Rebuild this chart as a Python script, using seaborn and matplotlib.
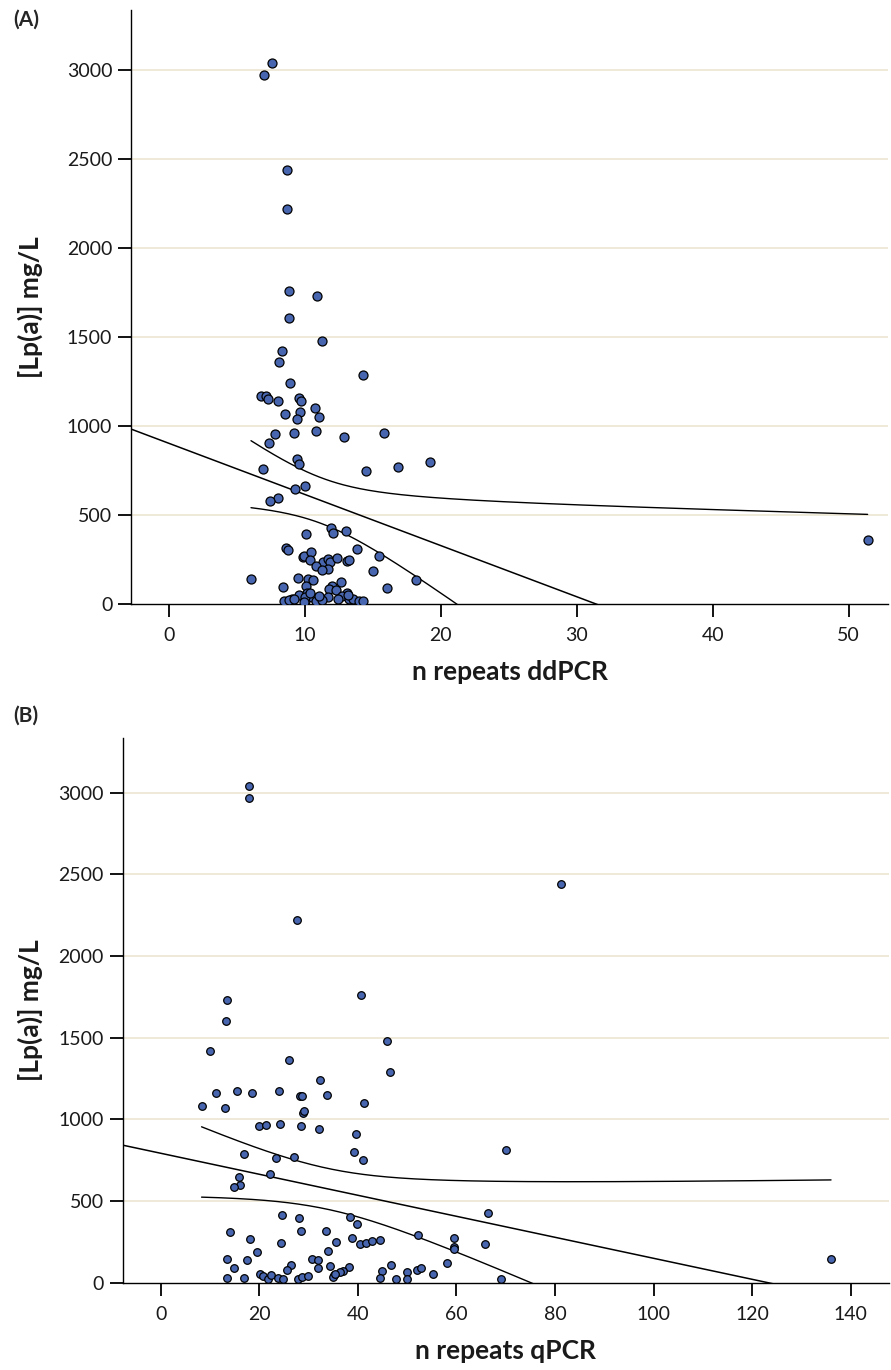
import numpy as np
import pandas as pd
import seaborn as sns
import matplotlib
matplotlib.use("Agg")
import matplotlib.pyplot as plt

# ---------------- data ----------------
# Panel A: n repeats by ddPCR vs [Lp(a)]
ddpcr_x = [7.6, 7.0, 8.65, 8.68, 8.85, 10.86, 8.85,
           11.27, 8.28, 8.06, 14.26, 8.87, 6.76, 7.16, 7.26, 7.99, 9.53, 9.7, 10.76, 9.61,
           11.0, 8.53, 9.41, 7.79, 9.19, 10.81, 12.87, 15.81, 7.35, 9.43, 9.53, 6.94, 14.46,
           16.81, 19.22, 10.0, 9.29, 8.04, 7.43, 11.89, 12.08, 13.01, 10.07, 13.82, 8.58,
           8.72, 15.42, 9.85, 9.95, 10.47, 10.39, 11.32, 11.71, 11.84, 12.35, 13.06, 13.21,
           10.78, 11.69, 11.25, 15.0, 6.03, 9.46, 10.22, 10.61, 18.18, 12.62, 8.36, 16.0,
           10.1, 11.96, 11.79, 12.28, 13.06, 9.58, 10.17, 12.74, 11.69, 9.02, 8.46, 10.0,
           10.51, 10.81, 11.25, 13.21, 13.5, 13.95, 14.26, 10.03,
           8.8, 9.2, 9.9, 10.4, 11.0, 12.4, 13.2, 51.4]
lpa_a = [3041, 2970, 2440, 2219, 1758, 1730, 1605,
         1479, 1420, 1360, 1288, 1240, 1169, 1169, 1153, 1139, 1157, 1139, 1099, 1081,
         1049, 1069, 1039, 955, 961, 970, 938, 959, 904, 813, 785, 758, 745,
         768, 800, 665, 646, 597, 580, 425, 397, 412, 395, 311, 315,
         305, 270, 266, 271, 290, 245, 238, 255, 234, 258, 240, 245,
         215, 197, 189, 184, 140, 146, 140, 133, 133, 122, 97, 88,
         103, 103, 86, 79, 64, 49, 64, 47, 39, 30, 17, 17,
         38, 17, 22, 26, 30, 17, 17, 41,
         22, 28, 12, 60, 45, 30, 50, 360]

# Panel B: n repeats by qPCR vs [Lp(a)]
qpcr_x = [17.97, 17.97, 27.6, 13.4, 40.6, 13.25, 81.2, 70.0, 66.5, 59.6, 59.6, 59.6, 65.7,
          58.1, 69.1, 136.0,
          9.93, 26.1, 45.97, 46.5, 32.4, 11.2, 15.4, 18.5, 24.1, 28.2, 28.7, 33.8, 41.3, 8.3,
          13.0, 28.8, 29.1, 19.9, 21.3, 24.3, 28.4, 32.1, 39.6, 17.0, 23.5, 27.1, 39.3, 41.0,
          22.2, 15.9, 16.0, 14.85, 24.6, 28.0, 38.5, 39.9, 14.05, 28.4, 33.5, 18.2, 38.9,
          35.6, 40.4, 41.6, 42.9, 44.4, 52.3, 24.4, 19.5, 34.0, 13.4, 17.6, 30.8, 31.9, 14.8,
          26.4, 25.6, 31.9, 34.3, 38.3, 36.9, 36.4, 35.2, 34.9, 44.9, 46.8, 50.0, 50.0, 47.7,
          44.4, 52.1, 52.9, 55.3, 13.4, 16.9, 20.1, 20.8, 21.8, 22.4, 23.8, 24.9, 27.9, 28.6,
          29.9, 35.4]
lpa_b = [3040, 2969, 2220, 1731, 1759, 1600, 2440, 814, 427, 273, 219, 204, 240,
         124, 21, 148,
         1420, 1362, 1482, 1292, 1241, 1163, 1172, 1163, 1172, 1141, 1141, 1151, 1102, 1082,
         1072, 1039, 1051, 960, 964, 972, 962, 939, 909, 788, 762, 770, 802, 750,
         668, 649, 598, 584, 415, 398, 401, 362, 313, 315, 317, 268, 276,
         250, 237, 245, 256, 262, 292, 244, 187, 193, 144, 138, 146, 138, 91,
         111, 80, 91, 105, 99, 70, 64, 48, 36, 70, 107, 68, 23, 23,
         27, 76, 92, 52, 27, 31, 52, 42, 25, 46, 31, 23, 23, 34,
         43, 54]

y_ticks = [0, 500, 1000, 1500, 2000, 2500, 3000]
xticks_a = [0, 10, 20, 30, 40, 50]
xticks_b = [0, 20, 40, 60, 80, 100, 120, 140]

# ---------------- style ----------------
sns.set_theme(style="white")
plt.rcParams['font.family'] = ['Lato', 'DejaVu Sans']

POINT = '#4866B0'
GRID = '#EEE7D6'
T95 = 1.98

fig = plt.figure(figsize=(8.91, 13.70), dpi=100)
W, H = 891, 1370


def axes_px(left, top, right, bottom):
    return fig.add_axes([left / W, 1 - bottom / H, (right - left) / W, (bottom - top) / H])


def panel(ax, xs, ys, xlim, xticks, xlabel, msize, ylab_x, xlab_y):
    x = np.asarray(xs, float)
    y = np.asarray(ys, float)
    ax.set_xlim(*xlim)
    ax.set_ylim(0, 3337)
    for t in y_ticks[1:]:
        ax.axhline(t, color=GRID, lw=1.3, zorder=0)
    # regression line over the whole axis
    sns.regplot(x=x, y=y, ax=ax, scatter=False, ci=None, truncate=False,
                line_kws=dict(color='black', lw=1.1, zorder=2))
    # analytic 95% confidence band of the mean, drawn as lines
    n = len(x)
    b, a = np.polyfit(x, y, 1)
    resid = y - (a + b * x)
    s_e = np.sqrt(np.sum(resid ** 2) / (n - 2))
    xm = x.mean()
    sxx = np.sum((x - xm) ** 2)
    xc = np.linspace(x.min(), x.max(), 300)
    se = s_e * np.sqrt(1.0 / n + (xc - xm) ** 2 / sxx)
    band = pd.DataFrame({'x': np.concatenate([xc, xc]),
                         'y': np.concatenate([a + b * xc + T95 * se, a + b * xc - T95 * se]),
                         'side': ['upper'] * len(xc) + ['lower'] * len(xc)})
    sns.lineplot(data=band, x='x', y='y', units='side', estimator=None, ax=ax,
                 color='black', lw=1.0, zorder=2, sort=False)
    sns.scatterplot(x=x, y=y, ax=ax, color=POINT, edgecolor='black', linewidth=0.9,
                    s=msize, zorder=3, legend=False)
    ax.set_xlim(*xlim)
    ax.set_ylim(0, 3337)
    ax.set_xticks(xticks)
    ax.set_yticks(y_ticks)
    ax.set_yticklabels([str(t) for t in y_ticks])
    ax.set_xticklabels([str(t) for t in xticks])
    sns.despine(ax=ax)
    for sp in ('left', 'bottom'):
        ax.spines[sp].set_color('black')
        ax.spines[sp].set_linewidth(1.0)
    ax.tick_params(axis='both', direction='out', length=9.5, width=1.3, color='black',
                   labelsize=14, labelcolor='#1a1a1a', pad=4, bottom=True, left=True)
    ax.tick_params(axis='x', pad=7)
    ax.set_xlabel(xlabel, fontsize=19, fontweight='bold', color='#1a1a1a')
    ax.set_ylabel('[Lp(a)] mg/L', fontsize=19, fontweight='bold', color='#1a1a1a')
    ax.yaxis.set_label_coords(ylab_x, 0.5)
    ax.xaxis.set_label_coords(0.5, xlab_y)
    ax.grid(False)


axA = axes_px(131, 10, 888, 604)
axB = axes_px(122.7, 737.6, 888.7, 1282.8)

panel(axA, ddpcr_x, lpa_a, (-2.8, 52.9), xticks_a, 'n repeats ddPCR', 42,
      (43 - 131) / 757, -(660 - 604) / 594)
panel(axB, qpcr_x, lpa_b, (-7.7, 147.7), xticks_b, 'n repeats qPCR', 30,
      (43 - 122.7) / 766, -(1339 - 1282.8) / 545.2)

fig.text(13 / W, 1 - 20 / H, '(A)', fontsize=15, fontweight='bold', va='center', ha='left')
fig.text(13 / W, 1 - 716 / H, '(B)', fontsize=15, fontweight='bold', va='center', ha='left')

fig.savefig('out.png', dpi=100)
